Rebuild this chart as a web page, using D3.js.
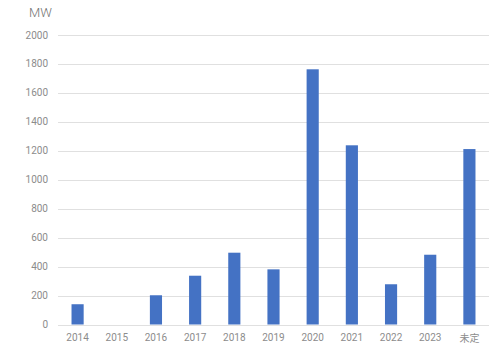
<!DOCTYPE html>
<html>
<head>
<meta charset="utf-8">
<script src="https://cdn.jsdelivr.net/npm/d3@7"></script>
<style>
body { margin: 0; background: #fff; }
text { font-family: Roboto, "Noto Sans CJK JP", sans-serif; }
</style>
</head>
<body>
<script>
var categories = ["2014", "2015", "2016", "2017", "2018", "2019", "2020", "2021", "2022", "2023", "未定"];
var values = [140, 0, 202, 337, 496, 381, 1763, 1238, 278, 482, 1212];
var yTicks = [0, 200, 400, 600, 800, 1000, 1200, 1400, 1600, 1800, 2000];

var width = 500, height = 352;
var svg = d3.select("body").append("svg")
    .attr("width", width)
    .attr("height", height);

var x = d3.scaleBand()
    .domain(categories)
    .range([58, 489])
    .paddingInner(0.69)
    .paddingOuter(0.345);

var y = d3.scaleLinear()
    .domain([0, 2000])
    .range([324.5, 35]);

// gridlines
svg.append("g")
    .selectAll("line")
    .data(yTicks)
    .enter().append("line")
    .attr("x1", 58)
    .attr("x2", 489)
    .attr("y1", function (d) { return Math.round(y(d)) + 0.5; })
    .attr("y2", function (d) { return Math.round(y(d)) + 0.5; })
    .style("stroke", "#e0e0e0")
    .style("stroke-width", "1px");

// y labels
svg.append("g")
    .selectAll("text")
    .data(yTicks)
    .enter().append("text")
    .attr("x", 48)
    .attr("y", function (d) { return y(d) + 3.5; })
    .style("text-anchor", "end")
    .style("font-size", "10px")
    .style("fill", "#8c8c8c")
    .text(function (d) { return d; });

// bars
svg.append("g")
    .selectAll("rect")
    .data(values)
    .enter().append("rect")
    .attr("x", function (d, i) { return x(categories[i]); })
    .attr("width", x.bandwidth())
    .attr("y", function (d) { return y(d); })
    .attr("height", function (d) { return y(0) - y(d); })
    .style("fill", "#4472c4");

// x labels
svg.append("g")
    .selectAll("text")
    .data(categories)
    .enter().append("text")
    .attr("x", function (d) { return x(d) + x.bandwidth() / 2; })
    .attr("y", function (d) { return d === "未定" ? 342 : 341; })
    .style("text-anchor", "middle")
    .style("font-size", "10px")
    .style("fill", "#8c8c8c")
    .text(function (d) { return d; });

svg.append("text")
    .attr("x", 29)
    .attr("y", 17)
    .style("font-size", "13px")
    .style("font-weight", 300)
    .style("fill", "#737373")
    .text("MW");
</script>
</body>
</html>
